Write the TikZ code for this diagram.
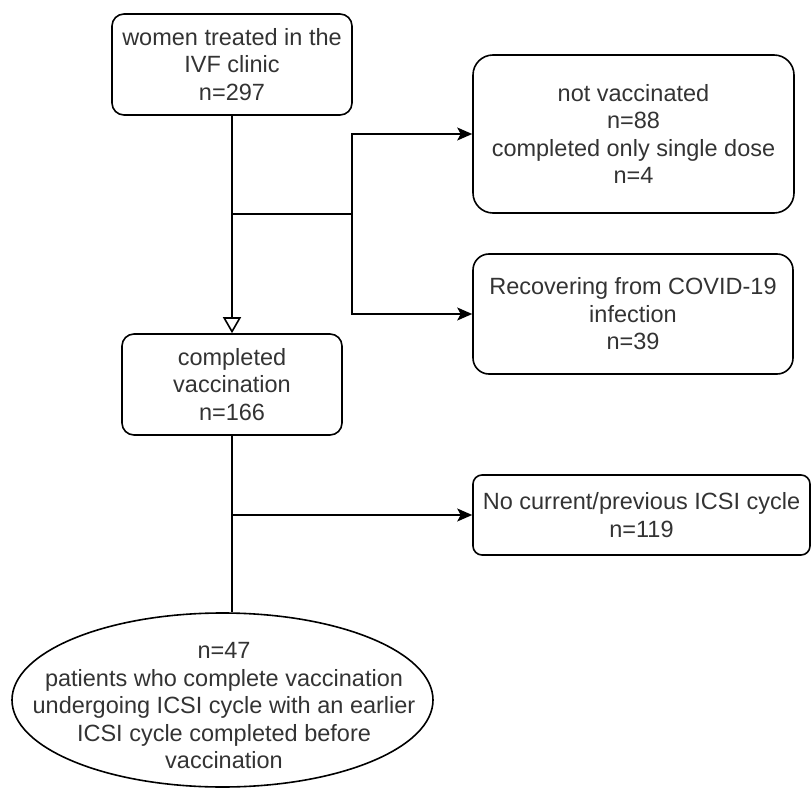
\documentclass[tikz,border=0pt]{standalone}
\usepackage{fontspec}
\setmainfont{Liberation Sans}
\usetikzlibrary{arrows.meta,shapes.geometric}
\begin{document}
\begin{tikzpicture}[x=1pt,y=-1pt,
  txt/.style={text=black!80, font=\fontsize{23.5}{27.5}\selectfont, align=center},
  rbox/.style={txt, draw=black, line width=1.6pt, rounded corners=#1, inner sep=0pt},
  oval/.style={draw=black, line width=1.6pt, ellipse, inner sep=0pt},
  conn/.style={draw=black, line width=1.6pt},
  farrow/.style={conn, -{Stealth[length=15pt,width=13pt,inset=3.5pt]}},
  oarrow/.style={conn, -{Triangle[open,length=16pt,width=18pt,fill=white]}}
]
\useasboundingbox (0,0) rectangle (812,792);

\node[rbox=12pt, minimum width=240pt, minimum height=101pt] (b1) at (232,64.5)
  {women treated in the\\IVF clinic\\n=297};
\node[rbox=20pt, minimum width=321pt, minimum height=158pt] (b3) at (633.5,134)
  {not vaccinated\\n=88\\completed only single dose\\n=4};
\node[rbox=16pt, minimum width=320pt, minimum height=120pt] (b4) at (633,314)
  {Recovering from COVID-19\\infection\\n=39};
\node[rbox=12pt, minimum width=220pt, minimum height=101pt] (b2) at (232,384.5)
  {completed\\vaccination\\n=166};
\node[rbox=9pt, minimum width=337pt, minimum height=80pt] (b5) at (641.5,515)
  {No current/previous ICSI cycle\\n=119};
\node[oval, minimum width=421pt, minimum height=174pt] (e) at (222.5,700) {};
\node[txt] (et) at (224,706)
  {n=47\\patients who complete vaccination\\undergoing ICSI cycle with an earlier\\ICSI cycle completed before\\vaccination};

\coordinate (j1) at (232,214);
\coordinate (j2) at (352,214);
\coordinate (j3) at (232,515);

\draw[oarrow] (b1.south) -- (b2.north);
\draw[conn] (j1) -- (j2);
\draw[farrow] (j2) |- (b3.west);
\draw[farrow] (j2) |- (b4.west);
\draw[conn] (b2.south) -- (b2.south |- e.north);
\draw[farrow] (j3) -- (b5.west);
\end{tikzpicture}
\end{document}
